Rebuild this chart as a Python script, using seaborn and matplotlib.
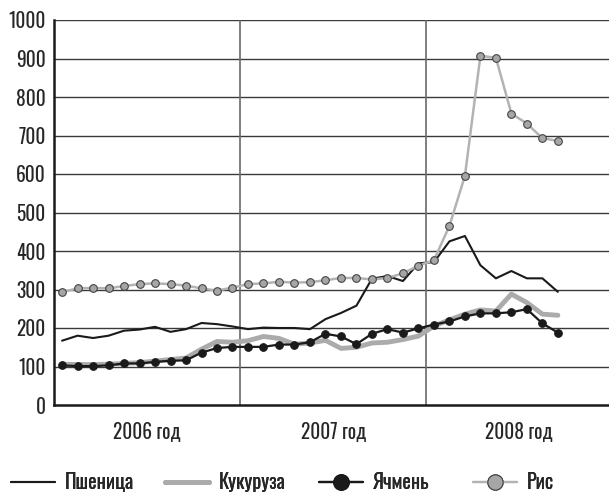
import matplotlib
matplotlib.use("Agg")
import matplotlib.pyplot as plt
import seaborn as sns
import pandas as pd
from matplotlib.lines import Line2D

months = list(range(33))  # Jan 2006 .. Sep 2008
wheat = [167, 180, 174, 180, 193, 196, 203, 190, 197, 213, 210, 204,
         197, 201, 200, 200, 197, 223, 239, 258, 328, 335, 322, 368,
         371, 425, 439, 363, 329, 348, 329, 329, 294]
corn = [106, 105, 105, 106, 108, 110, 114, 118, 122, 145, 165, 163,
        167, 178, 173, 158, 161, 168, 147, 150, 161, 163, 170, 179,
        205, 221, 236, 247, 244, 288, 266, 236, 233]
barley = [103, 101, 101, 103, 108, 108, 112, 115, 116, 136, 148, 151,
          151, 151, 157, 157, 163, 185, 178, 158, 185, 197, 188, 199,
          209, 217, 230, 238, 238, 241, 249, 212, 188]
rice = [293, 303, 304, 303, 309, 314, 316, 314, 310, 303, 297, 305,
        314, 316, 320, 318, 319, 324, 330, 330, 326, 330, 342, 362,
        376, 465, 595, 907, 902, 757, 731, 693, 686]
year_labels = ["2006 год", "2007 год", "2008 год"]
series_names = ["Пшеница", "Кукуруза", "Ячмень", "Рис"]

sns.set_style("white")
plt.rcParams['font.family'] = ['Oswald', 'PT Sans Narrow', 'Roboto Condensed', 'DejaVu Sans']
plt.rcParams['font.weight'] = 'light'
FS = 14

fig = plt.figure(figsize=(6.09, 4.95), dpi=100)
ax = fig.add_axes([54/609, 1-405/495, 1-54/609, (405-20)/495])

df = pd.DataFrame({"m": months, "wheat": wheat, "corn": corn,
                   "barley": barley, "rice": rice})

for v in range(100, 1001, 100):
    ax.axhline(v, color="#3a3a3a", lw=1.0, zorder=0)
for xv in [11.5, 23.5]:
    ax.axvline(xv, color="#6a6a6a", lw=1.2, zorder=0)

sns.lineplot(data=df, x="m", y="corn", ax=ax, color="#ababab", lw=3.5, zorder=2)
sns.lineplot(data=df, x="m", y="wheat", ax=ax, color="#1a1a1a", lw=1.5, zorder=3)
sns.lineplot(data=df, x="m", y="barley", ax=ax, color="#1a1a1a", lw=1.6,
             marker="o", markersize=5.5, markeredgecolor="#1a1a1a",
             markerfacecolor="#1a1a1a", zorder=4)
sns.lineplot(data=df, x="m", y="rice", ax=ax, color="#b3b3b3", lw=1.8,
             marker="o", markersize=5.5, markeredgecolor="#444444",
             markeredgewidth=0.8, markerfacecolor="#a6a6a6", zorder=5)

ax.set_xlim(-0.52, 35.3)
ax.set_ylim(0, 1000)
ax.set_yticks(range(0, 1001, 100))
ax.set_yticklabels([str(v) for v in range(0, 1001, 100)], fontsize=FS)
ax.set_xticks([5.5, 17.5, 29.5])
ax.set_xticklabels(year_labels, fontsize=FS)
ax.tick_params(axis="y", length=0, pad=6)
ax.tick_params(axis="x", length=0, pad=12)
ax.set_xlabel("")
ax.set_ylabel("")
for s in ["top", "right"]:
    ax.spines[s].set_visible(False)
ax.spines["left"].set_color("#1a1a1a")
ax.spines["left"].set_linewidth(1.8)
ax.spines["bottom"].set_color("#1a1a1a")
ax.spines["bottom"].set_linewidth(1.8)

handles = [
    Line2D([], [], color="#1a1a1a", lw=1.5),
    Line2D([], [], color="#ababab", lw=3.5),
    Line2D([], [], color="#1a1a1a", lw=1.6, marker="o", markersize=11,
           markerfacecolor="#1a1a1a", markeredgecolor="#1a1a1a"),
    Line2D([], [], color="#b3b3b3", lw=1.6, marker="o", markersize=11,
           markerfacecolor="#a6a6a6", markeredgecolor="#444444", markeredgewidth=0.8),
]
starts = [11, 165, 319, 473]
for h, name, x0 in zip(handles, series_names, starts):
    leg = fig.legend([h], [name], loc="center left",
                     bbox_to_anchor=(x0/609, 1-482/495), frameon=False,
                     fontsize=14.5, handlelength=2.2, borderpad=0,
                     borderaxespad=0, handletextpad=0.45)
    fig.add_artist(leg)

fig.savefig("out.png", dpi=100)
